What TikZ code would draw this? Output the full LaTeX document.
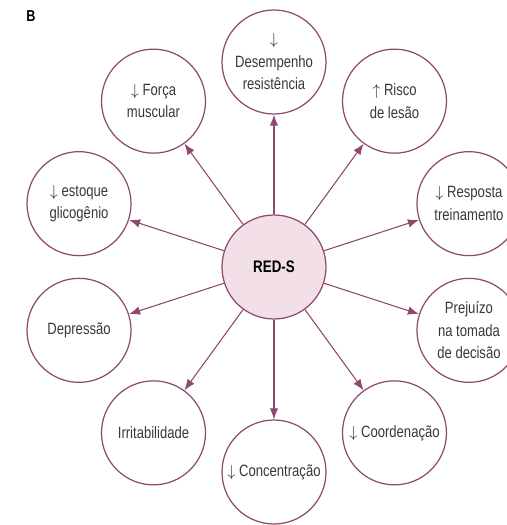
\documentclass[tikz,border=0pt]{standalone}
\usepackage{fontspec}
\setmainfont{Liberation Sans}[FakeStretch=0.8]
\usepackage{xcolor}
\usetikzlibrary{arrows.meta}

\definecolor{redsline}{HTML}{8E4A6E}
\definecolor{redsfill}{HTML}{F2DFE8}
\definecolor{redstext}{HTML}{363840}

\tikzset{
    efeito/.style={circle, draw=redsline, line width=0.7pt, minimum size=2.08cm,
        inner sep=0pt, align=center, text=redstext, font=\fontsize{9.3}{12.8}\selectfont},
    centro/.style={efeito, fill=redsfill, text=black, font=\fontsize{9.5}{12}\selectfont\bfseries},
    seta/.style={-{Latex[length=2.2mm,width=1.7mm]}, draw=redsline, line width=0.6pt, fill=redsline}
}

\begin{document}
\begin{tikzpicture}
                \useasboundingbox (-5.48,-5.16) rectangle (4.64,5.34);
                \node[font=\fontsize{9}{10}\selectfont\bfseries] (letra) at (-4.86, 5.02) {B};

                \node[centro] (reds) at (0, 0) {RED-S};

                \node[efeito] (desempenho) at (90:4.1) {$\downarrow$\\Desempenho\\resistência};
                \node[efeito] (risco) at (54:4.1) {$\uparrow$ Risco\\de lesão};
                \node[efeito] (resposta) at (18:4.1) {$\downarrow$ Resposta\\treinamento};
                \node[efeito] (prejuizo) at (-18:4.1) {Prejuízo\\na tomada\\de decisão};
                \node[efeito] (coordenacao) at (-54:4.1) {$\downarrow$ Coordenação};
                \node[efeito] (concentracao) at (-90:4.1) {$\downarrow$ Concentração};
                \node[efeito] (irritabilidade) at (-126:4.1) {Irritabilidade};
                \node[efeito] (depressao) at (-162:4.1) {Depressão};
                \node[efeito] (estoque) at (162:4.1) {$\downarrow$ estoque\\glicogênio};
                \node[efeito] (forca) at (126:4.1) {$\downarrow$ Força\\muscular};

                \draw[seta] (reds) -- (desempenho);
                \draw[seta] (reds) -- (risco);
                \draw[seta] (reds) -- (resposta);
                \draw[seta] (reds) -- (prejuizo);
                \draw[seta] (reds) -- (coordenacao);
                \draw[seta] (reds) -- (concentracao);
                \draw[seta] (reds) -- (irritabilidade);
                \draw[seta] (reds) -- (depressao);
                \draw[seta] (reds) -- (estoque);
                \draw[seta] (reds) -- (forca);
            \end{tikzpicture}
\end{document}
